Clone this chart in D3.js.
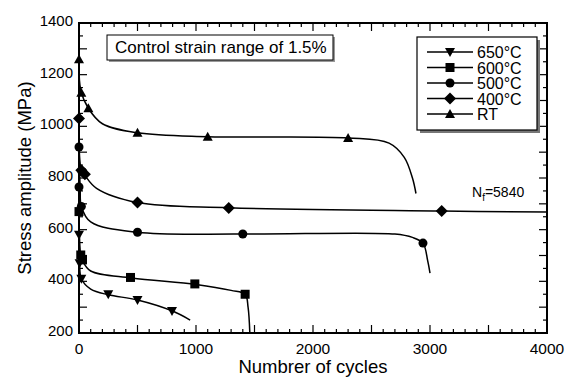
<!DOCTYPE html>
<html>
<head>
<meta charset="utf-8">
<script src="https://cdn.jsdelivr.net/npm/d3@7"></script>
<style>
  body { margin: 0; background: #fff; }
  text { font-family: "Liberation Sans", Arial, sans-serif; fill: #000; }
</style>
</head>
<body>
<div id="chart"></div>
<script>
// series: curve points [cycles, MPa] and marker points
const rtLine = [[0,1260],[15,1140],[80,1070],[200,1010],[500,975],[1100,960],[2300,955],[2650,935],[2780,880],[2850,800],[2880,740]];
const rtMarks = [[0,1260],[20,1130],[80,1070],[500,975],[1100,960],[2300,955]];

const t400Line = [[0,1030],[20,830],[50,810],[150,760],[500,705],[1280,685],[3100,672],[4000,668]];
const t400Marks = [[0,1030],[20,830],[50,815],[500,705],[1280,684],[3100,672]];

const t500Line = [[0,920],[10,760],[20,690],[100,630],[500,590],[1400,583],[2700,583],[2850,570],[2940,548],[2980,480],[3000,432]];
const t500Marks = [[0,920],[25,825],[0,765],[20,690],[500,590],[1400,583],[2940,548]];

const t600Line = [[0,670],[15,500],[30,480],[100,440],[450,413],[1000,388],[1300,365],[1420,350],[1445,300],[1460,200]];
const t600Marks = [[0,670],[15,502],[30,483],[440,415],[990,390],[1420,350]];

const t650Line = [[0,580],[5,470],[20,410],[100,370],[250,348],[500,328],[800,285],[950,250]];
const t650Marks = [[0,580],[5,470],[20,410],[250,350],[500,328],[795,285]];

const legendLabels = ["650°C", "600°C", "500°C", "400°C", "RT"];
const xTicks = [0, 1000, 2000, 3000, 4000];
const yTicks = [200, 400, 600, 800, 1000, 1200, 1400];

const width = 570, height = 384;
const margin = {top: 23, right: 23, bottom: 51, left: 79};

const svg = d3.select("#chart").append("svg")
    .attr("width", width)
    .attr("height", height);

const x = d3.scaleLinear().domain([0, 4000]).range([margin.left, width - margin.right]);
const y = d3.scaleLinear().domain([200, 1400]).range([height - margin.bottom, margin.top]);

const series = [
    {line: t650Line, marks: t650Marks, sym: "tdown"},
    {line: t600Line, marks: t600Marks, sym: "square"},
    {line: t500Line, marks: t500Marks, sym: "circle"},
    {line: t400Line, marks: t400Marks, sym: "diamond"},
    {line: rtLine, marks: rtMarks, sym: "tup"}
];

function symbolPath(sym) {
    if (sym === "tdown") return "M-5,-4L5,-4L0,5Z";
    if (sym === "tup") return "M-5,4L5,4L0,-5Z";
    if (sym === "square") return "M-4.5,-4.5H4.5V4.5H-4.5Z";
    if (sym === "diamond") return "M0,-6L6,0L0,6L-6,0Z";
    return d3.symbol(d3.symbolCircle, 64)();
}

// axes ticks (inward, all four sides)
const g = svg.append("g");
const xMinor = d3.range(0, 4001, 100);
const yMinor = d3.range(200, 1401, 50);
const x0 = x.range()[0], x1 = x.range()[1], y0 = y.range()[0], y1 = y.range()[1];

g.selectAll(".xt").data(xMinor).join("line")
    .attr("x1", d => x(d)).attr("x2", d => x(d))
    .attr("y1", y0).attr("y2", d => y0 - (d % 500 === 0 ? 8 : 4))
    .attr("stroke", "#000").attr("stroke-width", 1.2);
g.selectAll(".xtt").data(xMinor).join("line")
    .attr("x1", d => x(d)).attr("x2", d => x(d))
    .attr("y1", y1).attr("y2", d => y1 + (d % 500 === 0 ? 8 : 4))
    .attr("stroke", "#000").attr("stroke-width", 1.2);
g.selectAll(".yt").data(yMinor).join("line")
    .attr("y1", d => y(d)).attr("y2", d => y(d))
    .attr("x1", x0).attr("x2", d => x0 + (d % 100 === 0 ? 8 : 4))
    .attr("stroke", "#000").attr("stroke-width", 1.2);
g.selectAll(".ytr").data(yMinor).join("line")
    .attr("y1", d => y(d)).attr("y2", d => y(d))
    .attr("x1", x1).attr("x2", d => x1 - (d % 100 === 0 ? 8 : 4))
    .attr("stroke", "#000").attr("stroke-width", 1.2);

g.append("rect")
    .attr("x", x0).attr("y", y1)
    .attr("width", x1 - x0).attr("height", y0 - y1)
    .attr("fill", "none").attr("stroke", "#000").attr("stroke-width", 2);

g.selectAll(".xl").data(xTicks).join("text")
    .attr("x", d => x(d)).attr("y", y0 + 21)
    .attr("text-anchor", "middle")
    .style("font-size", "15.5px")
    .text(d => d);
g.selectAll(".yl").data(yTicks).join("text")
    .attr("x", x0 - 6).attr("y", d => y(d) + 3)
    .attr("text-anchor", "end")
    .style("font-size", "15px")
    .text(d => d);

svg.append("text")
    .attr("x", (x0 + x1) / 2).attr("y", 373)
    .attr("text-anchor", "middle")
    .style("font-size", "18.5px")
    .text("Numbrer of cycles");
svg.append("text")
    .attr("transform", `translate(31,${(y0 + y1) / 2}) rotate(-90)`)
    .attr("text-anchor", "middle")
    .style("font-size", "18.5px")
    .text("Stress amplitude (MPa)");

// curves
const line = d3.line()
    .x(d => x(d[0])).y(d => y(d[1]))
    .curve(d3.curveCatmullRom.alpha(0.5));

const plot = svg.append("g");
series.forEach(s => {
    plot.append("path")
        .attr("d", line(s.line))
        .attr("fill", "none").attr("stroke", "#000").attr("stroke-width", 1.5);
    plot.selectAll(null).data(s.marks).join("path")
        .attr("transform", d => `translate(${x(d[0])},${y(d[1])})`)
        .attr("d", symbolPath(s.sym))
        .attr("fill", "#000");
});

// annotation box
const ann = svg.append("g");
ann.append("rect").attr("x", 109).attr("y", 37).attr("width", 226).attr("height", 25).attr("fill", "#999");
ann.append("rect").attr("x", 107).attr("y", 35).attr("width", 226).attr("height", 25)
    .attr("fill", "#fff").attr("stroke", "#000").attr("stroke-width", 1);
ann.append("text").attr("x", 115).attr("y", 53)
    .style("font-size", "17px")
    .text("Control strain range of 1.5%");

// legend
const leg = svg.append("g");
leg.append("rect").attr("x", 420).attr("y", 40).attr("width", 120).attr("height", 93).attr("fill", "#777");
leg.append("rect").attr("x", 417).attr("y", 37).attr("width", 120).attr("height", 93)
    .attr("fill", "#fff").attr("stroke", "#000").attr("stroke-width", 1.2);
series.forEach((s, i) => {
    const ly = 52 + i * 15.5;
    leg.append("line").attr("x1", 427).attr("x2", 473).attr("y1", ly).attr("y2", ly)
        .attr("stroke", "#000").attr("stroke-width", 1.5);
    leg.append("path").attr("transform", `translate(450,${ly})`)
        .attr("d", symbolPath(s.sym)).attr("fill", "#000");
    leg.append("text").attr("x", 477).attr("y", ly + 6)
        .style("font-size", "16px")
        .text(legendLabels[i]);
});

// Nf label
const nf = svg.append("text").attr("x", 472).attr("y", 197).style("font-size", "14px");
nf.append("tspan").text("N");
nf.append("tspan").attr("dy", 4).style("font-size", "10px").text("f");
nf.append("tspan").attr("dy", -4).text("=5840");
</script>
</body>
</html>
